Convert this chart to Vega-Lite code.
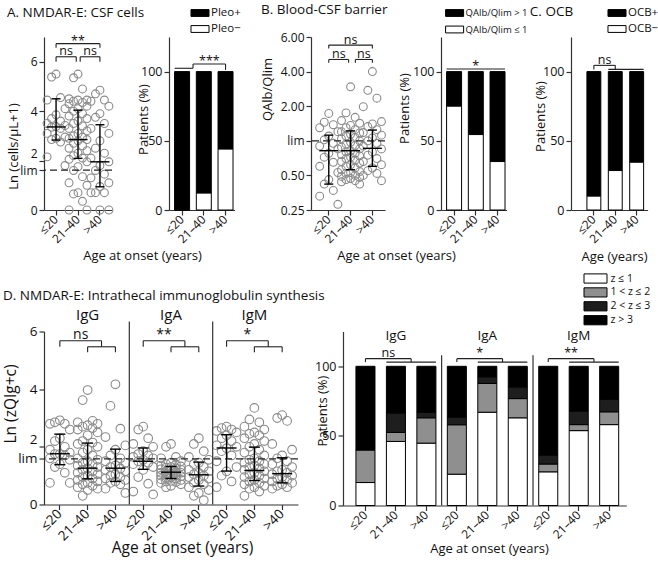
{
"$schema": "https://vega.github.io/schema/vega-lite/v6.json",
"background": "white",
"padding": {"left": 3, "top": 2, "right": 2, "bottom": 2},
"config": {
  "font": "Open Sans",
  "view": {"stroke": null},
  "axis": {"grid": false, "labelFontSize": 12.5, "titleFontSize": 13, "titleFontWeight": "normal", "labelColor": "#111", "titleColor": "#111", "domainColor": "#333", "tickColor": "#333", "domainWidth": 1.2, "tickWidth": 1.2, "tickSize": 5, "labelPadding": 2, "labelOverlap": false, "labelFlush": false, "titleBaseline": "middle"},
  "axisX": {"labelAngle": -45, "labelAlign": "right", "labelBaseline": "middle", "labelFontSize": 12},
  "title": {"fontSize": 13.5, "fontWeight": "normal", "anchor": "start", "frame": "bounds", "color": "#111", "font": "Open Sans", "offset": 15},
  "legend": {"labelFontSize": 11.5, "labelFont": "Open Sans", "labelColor": "#111", "padding": 0, "symbolStrokeColor": "black", "symbolStrokeWidth": 1, "orient": "none"},
  "rule": {"color": "#222", "strokeWidth": 1.1},
  "text": {"font": "Open Sans", "fontSize": 12.5, "color": "#111", "baseline": "alphabetic"},
  "tick": {"color": "black", "thickness": 1.4, "opacity": 1},
  "point": {"opacity": 1},
  "bar": {"stroke": "black", "strokeWidth": 1}
},
"datasets": {
  "one": [{}],
  "aPts": [
    {"g":"≤20","v":5.5},{"g":"≤20","v":5.38},{"g":"≤20","v":4.55},{"g":"≤20","v":4.45},{"g":"≤20","v":4.1},{"g":"≤20","v":3.85},{"g":"≤20","v":3.7},{"g":"≤20","v":3.6},{"g":"≤20","v":3.5},{"g":"≤20","v":3.42},{"g":"≤20","v":3.38},{"g":"≤20","v":3.35},{"g":"≤20","v":3.3},{"g":"≤20","v":3.1},{"g":"≤20","v":2.95},{"g":"≤20","v":2.9},{"g":"≤20","v":2.85},{"g":"≤20","v":2.75},{"g":"≤20","v":2.15},{"g":"≤20","v":1.8},
    {"g":"21–40","v":5.5},{"g":"21–40","v":5.35},{"g":"21–40","v":4.9},{"g":"21–40","v":4.5},{"g":"21–40","v":4.45},{"g":"21–40","v":4.45},{"g":"21–40","v":4.4},{"g":"21–40","v":4.35},{"g":"21–40","v":4.3},{"g":"21–40","v":4.2},{"g":"21–40","v":4.1},{"g":"21–40","v":4.0},{"g":"21–40","v":3.9},{"g":"21–40","v":3.8},{"g":"21–40","v":3.7},{"g":"21–40","v":3.6},{"g":"21–40","v":3.5},{"g":"21–40","v":3.4},{"g":"21–40","v":3.3},{"g":"21–40","v":3.2},{"g":"21–40","v":3.1},{"g":"21–40","v":3.0},{"g":"21–40","v":2.95},{"g":"21–40","v":2.9},{"g":"21–40","v":2.85},{"g":"21–40","v":2.8},{"g":"21–40","v":2.7},{"g":"21–40","v":2.6},{"g":"21–40","v":2.5},{"g":"21–40","v":2.4},{"g":"21–40","v":2.3},{"g":"21–40","v":2.2},{"g":"21–40","v":2.1},{"g":"21–40","v":2.05},{"g":"21–40","v":1.95},{"g":"21–40","v":1.75},{"g":"21–40","v":1.6},{"g":"21–40","v":1.35},{"g":"21–40","v":1.1},{"g":"21–40","v":1.0},{"g":"21–40","v":0.7},{"g":"21–40","v":0.65},{"g":"21–40","v":0.35},{"g":"21–40","v":0},{"g":"21–40","v":0},
    {"g":">40","v":4.85},{"g":">40","v":4.7},{"g":">40","v":4.45},{"g":">40","v":4.4},{"g":">40","v":4.2},{"g":">40","v":3.9},{"g":">40","v":3.75},{"g":">40","v":3.5},{"g":">40","v":3.3},{"g":">40","v":3.1},{"g":">40","v":2.8},{"g":">40","v":2.5},{"g":">40","v":2.3},{"g":">40","v":2.1},{"g":">40","v":1.95},{"g":">40","v":1.8},{"g":">40","v":1.6},{"g":">40","v":1.45},{"g":">40","v":1.3},{"g":">40","v":1.1},{"g":">40","v":0.95},{"g":">40","v":0.7},{"g":">40","v":0.7},{"g":">40","v":0.7},{"g":">40","v":0},{"g":">40","v":0}
  ],
  "aStats": [{"g":"≤20","med":3.36,"q1":2.83,"q3":4.5},{"g":"21–40","med":2.85,"q1":2.09,"q3":4.04},{"g":">40","med":1.95,"q1":0.94,"q3":3.45}],
  "aBar": [{"g":"≤20","s":"Pleo+","pct":100},{"g":"≤20","s":"Pleo−","pct":0},{"g":"21–40","s":"Pleo+","pct":87.8},{"g":"21–40","s":"Pleo−","pct":12.2},{"g":">40","s":"Pleo+","pct":56},{"g":">40","s":"Pleo−","pct":44}],
  "bPts": [
    {"g":"≤20","v":1.73},{"g":"≤20","v":1.45},{"g":"≤20","v":1.38},{"g":"≤20","v":1.3},{"g":"≤20","v":1.2},{"g":"≤20","v":1.1},{"g":"≤20","v":1.02},{"g":"≤20","v":0.95},{"g":"≤20","v":0.9},{"g":"≤20","v":0.85},{"g":"≤20","v":0.78},{"g":"≤20","v":0.72},{"g":"≤20","v":0.65},{"g":"≤20","v":0.6},{"g":"≤20","v":0.53},{"g":"≤20","v":0.46},{"g":"≤20","v":0.42},{"g":"≤20","v":0.37},{"g":"≤20","v":0.33},{"g":"≤20","v":0.28},
    {"g":"21–40","v":2.95},{"g":"21–40","v":1.75},{"g":"21–40","v":1.6},{"g":"21–40","v":1.5},{"g":"21–40","v":1.42},{"g":"21–40","v":1.36},{"g":"21–40","v":1.3},{"g":"21–40","v":1.25},{"g":"21–40","v":1.2},{"g":"21–40","v":1.17},{"g":"21–40","v":1.14},{"g":"21–40","v":1.1},{"g":"21–40","v":1.07},{"g":"21–40","v":1.04},{"g":"21–40","v":1.0},{"g":"21–40","v":0.97},{"g":"21–40","v":0.94},{"g":"21–40","v":0.91},{"g":"21–40","v":0.88},{"g":"21–40","v":0.85},{"g":"21–40","v":0.82},{"g":"21–40","v":0.8},{"g":"21–40","v":0.78},{"g":"21–40","v":0.76},{"g":"21–40","v":0.74},{"g":"21–40","v":0.72},{"g":"21–40","v":0.7},{"g":"21–40","v":0.68},{"g":"21–40","v":0.66},{"g":"21–40","v":0.64},{"g":"21–40","v":0.62},{"g":"21–40","v":0.6},{"g":"21–40","v":0.58},{"g":"21–40","v":0.56},{"g":"21–40","v":0.54},{"g":"21–40","v":0.53},{"g":"21–40","v":0.52},{"g":"21–40","v":0.5},{"g":"21–40","v":0.49},{"g":"21–40","v":0.48},{"g":"21–40","v":0.47},{"g":"21–40","v":0.46},{"g":"21–40","v":0.45},{"g":"21–40","v":0.44},{"g":"21–40","v":0.42},
    {"g":">40","v":4.0},{"g":">40","v":2.75},{"g":">40","v":2.35},{"g":">40","v":1.98},{"g":">40","v":1.47},{"g":">40","v":1.4},{"g":">40","v":1.33},{"g":">40","v":1.25},{"g":">40","v":1.18},{"g":">40","v":1.12},{"g":">40","v":1.06},{"g":">40","v":1.0},{"g":">40","v":0.95},{"g":">40","v":0.9},{"g":">40","v":0.85},{"g":">40","v":0.8},{"g":">40","v":0.75},{"g":">40","v":0.7},{"g":">40","v":0.66},{"g":">40","v":0.62},{"g":">40","v":0.58},{"g":">40","v":0.55},{"g":">40","v":0.52},{"g":">40","v":0.5},{"g":">40","v":0.45}
  ],
  "bStats": [{"g":"≤20","med":0.82,"q1":0.42,"q3":1.12},{"g":"21–40","med":0.82,"q1":0.56,"q3":1.22},{"g":">40","med":0.86,"q1":0.6,"q3":1.24}],
  "bBar": [{"g":"≤20","s":"QAlb/Qlim > 1","pct":25},{"g":"≤20","s":"QAlb/Qlim ≤ 1","pct":75},{"g":"21–40","s":"QAlb/Qlim > 1","pct":45.5},{"g":"21–40","s":"QAlb/Qlim ≤ 1","pct":54.5},{"g":">40","s":"QAlb/Qlim > 1","pct":65},{"g":">40","s":"QAlb/Qlim ≤ 1","pct":35}],
  "cBar": [{"g":"≤20","s":"OCB+","pct":90},{"g":"≤20","s":"OCB−","pct":10},{"g":"21–40","s":"OCB+","pct":71.5},{"g":"21–40","s":"OCB−","pct":28.5},{"g":">40","s":"OCB+","pct":65.5},{"g":">40","s":"OCB−","pct":34.5}],
  "dPts": [
    {"k":"IgG|≤20","v":2.92},{"k":"IgG|≤20","v":2.85},{"k":"IgG|≤20","v":2.8},{"k":"IgG|≤20","v":2.8},{"k":"IgG|≤20","v":2.6},{"k":"IgG|≤20","v":2.3},{"k":"IgG|≤20","v":2.2},{"k":"IgG|≤20","v":2.0},{"k":"IgG|≤20","v":1.9},{"k":"IgG|≤20","v":1.8},{"k":"IgG|≤20","v":1.75},{"k":"IgG|≤20","v":1.75},{"k":"IgG|≤20","v":1.7},{"k":"IgG|≤20","v":1.6},{"k":"IgG|≤20","v":1.55},{"k":"IgG|≤20","v":1.4},{"k":"IgG|≤20","v":1.3},{"k":"IgG|≤20","v":1.1},{"k":"IgG|≤20","v":0.75},{"k":"IgG|≤20","v":0.75},
    {"k":"IgG|21–40","v":3.97},{"k":"IgG|21–40","v":3.62},{"k":"IgG|21–40","v":2.9},{"k":"IgG|21–40","v":2.85},{"k":"IgG|21–40","v":2.8},{"k":"IgG|21–40","v":2.75},{"k":"IgG|21–40","v":2.7},{"k":"IgG|21–40","v":2.65},{"k":"IgG|21–40","v":2.6},{"k":"IgG|21–40","v":2.5},{"k":"IgG|21–40","v":2.4},{"k":"IgG|21–40","v":2.2},{"k":"IgG|21–40","v":2.15},{"k":"IgG|21–40","v":2.1},{"k":"IgG|21–40","v":2.0},{"k":"IgG|21–40","v":1.9},{"k":"IgG|21–40","v":1.8},{"k":"IgG|21–40","v":1.7},{"k":"IgG|21–40","v":1.6},{"k":"IgG|21–40","v":1.55},{"k":"IgG|21–40","v":1.5},{"k":"IgG|21–40","v":1.45},{"k":"IgG|21–40","v":1.4},{"k":"IgG|21–40","v":1.35},{"k":"IgG|21–40","v":1.3},{"k":"IgG|21–40","v":1.25},{"k":"IgG|21–40","v":1.2},{"k":"IgG|21–40","v":1.15},{"k":"IgG|21–40","v":1.1},{"k":"IgG|21–40","v":1.05},{"k":"IgG|21–40","v":1.0},{"k":"IgG|21–40","v":0.95},{"k":"IgG|21–40","v":0.9},{"k":"IgG|21–40","v":0.85},{"k":"IgG|21–40","v":0.8},{"k":"IgG|21–40","v":0.75},{"k":"IgG|21–40","v":0.7},{"k":"IgG|21–40","v":0.65},{"k":"IgG|21–40","v":0.6},{"k":"IgG|21–40","v":0.55},{"k":"IgG|21–40","v":0.5},{"k":"IgG|21–40","v":0.3},
    {"k":"IgG|>40","v":4.17},{"k":"IgG|>40","v":3.42},{"k":"IgG|>40","v":2.63},{"k":"IgG|>40","v":2.34},{"k":"IgG|>40","v":2.05},{"k":"IgG|>40","v":1.9},{"k":"IgG|>40","v":1.7},{"k":"IgG|>40","v":1.6},{"k":"IgG|>40","v":1.5},{"k":"IgG|>40","v":1.45},{"k":"IgG|>40","v":1.35},{"k":"IgG|>40","v":1.3},{"k":"IgG|>40","v":1.25},{"k":"IgG|>40","v":1.2},{"k":"IgG|>40","v":1.15},{"k":"IgG|>40","v":1.05},{"k":"IgG|>40","v":1.0},{"k":"IgG|>40","v":0.95},{"k":"IgG|>40","v":0.9},{"k":"IgG|>40","v":0.85},{"k":"IgG|>40","v":0.8},{"k":"IgG|>40","v":0.75},{"k":"IgG|>40","v":0.7},{"k":"IgG|>40","v":0.55},{"k":"IgG|>40","v":0.4},
    {"k":"IgA|≤20","v":2.7},{"k":"IgA|≤20","v":2.6},{"k":"IgA|≤20","v":2.3},{"k":"IgA|≤20","v":2.1},{"k":"IgA|≤20","v":2.0},{"k":"IgA|≤20","v":1.85},{"k":"IgA|≤20","v":1.75},{"k":"IgA|≤20","v":1.7},{"k":"IgA|≤20","v":1.65},{"k":"IgA|≤20","v":1.6},{"k":"IgA|≤20","v":1.55},{"k":"IgA|≤20","v":1.5},{"k":"IgA|≤20","v":1.45},{"k":"IgA|≤20","v":1.4},{"k":"IgA|≤20","v":1.3},{"k":"IgA|≤20","v":1.2},{"k":"IgA|≤20","v":0.95},{"k":"IgA|≤20","v":0.72},{"k":"IgA|≤20","v":0.45},{"k":"IgA|≤20","v":0.35},
    {"k":"IgA|21–40","v":2.1},{"k":"IgA|21–40","v":2.0},{"k":"IgA|21–40","v":1.65},{"k":"IgA|21–40","v":1.6},{"k":"IgA|21–40","v":1.5},{"k":"IgA|21–40","v":1.45},{"k":"IgA|21–40","v":1.4},{"k":"IgA|21–40","v":1.38},{"k":"IgA|21–40","v":1.35},{"k":"IgA|21–40","v":1.32},{"k":"IgA|21–40","v":1.3},{"k":"IgA|21–40","v":1.28},{"k":"IgA|21–40","v":1.25},{"k":"IgA|21–40","v":1.22},{"k":"IgA|21–40","v":1.2},{"k":"IgA|21–40","v":1.18},{"k":"IgA|21–40","v":1.15},{"k":"IgA|21–40","v":1.12},{"k":"IgA|21–40","v":1.1},{"k":"IgA|21–40","v":1.1},{"k":"IgA|21–40","v":1.08},{"k":"IgA|21–40","v":1.05},{"k":"IgA|21–40","v":1.02},{"k":"IgA|21–40","v":1.0},{"k":"IgA|21–40","v":0.98},{"k":"IgA|21–40","v":0.95},{"k":"IgA|21–40","v":0.93},{"k":"IgA|21–40","v":0.9},{"k":"IgA|21–40","v":0.88},{"k":"IgA|21–40","v":0.85},{"k":"IgA|21–40","v":0.82},{"k":"IgA|21–40","v":0.8},{"k":"IgA|21–40","v":0.78},{"k":"IgA|21–40","v":0.75},{"k":"IgA|21–40","v":0.7},{"k":"IgA|21–40","v":0.65},{"k":"IgA|21–40","v":0.6},
    {"k":"IgA|>40","v":2.3},{"k":"IgA|>40","v":2.1},{"k":"IgA|>40","v":1.85},{"k":"IgA|>40","v":1.65},{"k":"IgA|>40","v":1.55},{"k":"IgA|>40","v":1.45},{"k":"IgA|>40","v":1.4},{"k":"IgA|>40","v":1.3},{"k":"IgA|>40","v":1.2},{"k":"IgA|>40","v":1.15},{"k":"IgA|>40","v":1.1},{"k":"IgA|>40","v":1.05},{"k":"IgA|>40","v":1.0},{"k":"IgA|>40","v":0.95},{"k":"IgA|>40","v":0.9},{"k":"IgA|>40","v":0.85},{"k":"IgA|>40","v":0.75},{"k":"IgA|>40","v":0.7},{"k":"IgA|>40","v":0.6},{"k":"IgA|>40","v":0.5},{"k":"IgA|>40","v":0.4},{"k":"IgA|>40","v":0.3},{"k":"IgA|>40","v":0.15},
    {"k":"IgM|≤20","v":2.7},{"k":"IgM|≤20","v":2.65},{"k":"IgM|≤20","v":2.6},{"k":"IgM|≤20","v":2.55},{"k":"IgM|≤20","v":2.5},{"k":"IgM|≤20","v":2.4},{"k":"IgM|≤20","v":2.3},{"k":"IgM|≤20","v":2.2},{"k":"IgM|≤20","v":2.05},{"k":"IgM|≤20","v":2.0},{"k":"IgM|≤20","v":1.95},{"k":"IgM|≤20","v":1.85},{"k":"IgM|≤20","v":1.7},{"k":"IgM|≤20","v":1.5},{"k":"IgM|≤20","v":1.3},{"k":"IgM|≤20","v":1.15},{"k":"IgM|≤20","v":1.0},{"k":"IgM|≤20","v":0.8},{"k":"IgM|≤20","v":0.6},
    {"k":"IgM|21–40","v":3.35},{"k":"IgM|21–40","v":2.95},{"k":"IgM|21–40","v":2.85},{"k":"IgM|21–40","v":2.7},{"k":"IgM|21–40","v":2.6},{"k":"IgM|21–40","v":2.5},{"k":"IgM|21–40","v":2.45},{"k":"IgM|21–40","v":2.4},{"k":"IgM|21–40","v":2.3},{"k":"IgM|21–40","v":2.2},{"k":"IgM|21–40","v":2.1},{"k":"IgM|21–40","v":2.0},{"k":"IgM|21–40","v":1.9},{"k":"IgM|21–40","v":1.8},{"k":"IgM|21–40","v":1.7},{"k":"IgM|21–40","v":1.6},{"k":"IgM|21–40","v":1.55},{"k":"IgM|21–40","v":1.5},{"k":"IgM|21–40","v":1.45},{"k":"IgM|21–40","v":1.4},{"k":"IgM|21–40","v":1.35},{"k":"IgM|21–40","v":1.3},{"k":"IgM|21–40","v":1.25},{"k":"IgM|21–40","v":1.2},{"k":"IgM|21–40","v":1.15},{"k":"IgM|21–40","v":1.1},{"k":"IgM|21–40","v":1.05},{"k":"IgM|21–40","v":1.0},{"k":"IgM|21–40","v":0.95},{"k":"IgM|21–40","v":0.9},{"k":"IgM|21–40","v":0.85},{"k":"IgM|21–40","v":0.8},{"k":"IgM|21–40","v":0.75},{"k":"IgM|21–40","v":0.7},{"k":"IgM|21–40","v":0.65},{"k":"IgM|21–40","v":0.6},{"k":"IgM|21–40","v":0.55},{"k":"IgM|21–40","v":0.45},{"k":"IgM|21–40","v":0.3},
    {"k":"IgM|>40","v":3.1},{"k":"IgM|>40","v":3.0},{"k":"IgM|>40","v":2.9},{"k":"IgM|>40","v":2.1},{"k":"IgM|>40","v":1.9},{"k":"IgM|>40","v":1.7},{"k":"IgM|>40","v":1.6},{"k":"IgM|>40","v":1.5},{"k":"IgM|>40","v":1.4},{"k":"IgM|>40","v":1.3},{"k":"IgM|>40","v":1.2},{"k":"IgM|>40","v":1.15},{"k":"IgM|>40","v":1.1},{"k":"IgM|>40","v":1.05},{"k":"IgM|>40","v":1.0},{"k":"IgM|>40","v":0.95},{"k":"IgM|>40","v":0.9},{"k":"IgM|>40","v":0.85},{"k":"IgM|>40","v":0.8},{"k":"IgM|>40","v":0.75},{"k":"IgM|>40","v":0.7},{"k":"IgM|>40","v":0.65},{"k":"IgM|>40","v":0.6},{"k":"IgM|>40","v":0.55}
  ],
  "dStats": [{"k":"IgG|≤20","med":1.76,"q1":1.38,"q3":2.44},{"k":"IgG|21–40","med":1.26,"q1":0.89,"q3":2.13},{"k":"IgG|>40","med":1.26,"q1":0.8,"q3":1.92},{"k":"IgA|≤20","med":1.5,"q1":1.22,"q3":1.96},{"k":"IgA|21–40","med":1.12,"q1":0.9,"q3":1.32},{"k":"IgA|>40","med":1.03,"q1":0.64,"q3":1.47},{"k":"IgM|≤20","med":1.96,"q1":1.16,"q3":2.42},{"k":"IgM|21–40","med":1.18,"q1":0.83,"q3":1.99},{"k":"IgM|>40","med":1.07,"q1":0.75,"q3":1.62}],
  "dBr": [{"grp":"IgG","c1":"IgG|≤20","c2":"IgG|21–40","c3":"IgG|>40","s1":"ns","s2":"ns"},{"grp":"IgA","c1":"IgA|≤20","c2":"IgA|21–40","c3":"IgA|>40","s1":"**","s2":"*"},{"grp":"IgM","c1":"IgM|≤20","c2":"IgM|21–40","c3":"IgM|>40","s1":"*","s2":"**"}],
  "dBar": [
    {"k":"IgG|≤20","z":"z ≤ 1","pct":16.5},{"k":"IgG|≤20","z":"1 < z ≤ 2","pct":23.5},{"k":"IgG|≤20","z":"2 < z ≤ 3","pct":0},{"k":"IgG|≤20","z":"z > 3","pct":60},
    {"k":"IgG|21–40","z":"z ≤ 1","pct":46},{"k":"IgG|21–40","z":"1 < z ≤ 2","pct":6.5},{"k":"IgG|21–40","z":"2 < z ≤ 3","pct":14},{"k":"IgG|21–40","z":"z > 3","pct":33.5},
    {"k":"IgG|>40","z":"z ≤ 1","pct":44.8},{"k":"IgG|>40","z":"1 < z ≤ 2","pct":18.2},{"k":"IgG|>40","z":"2 < z ≤ 3","pct":4},{"k":"IgG|>40","z":"z > 3","pct":33},
    {"k":"IgA|≤20","z":"z ≤ 1","pct":22.5},{"k":"IgA|≤20","z":"1 < z ≤ 2","pct":35.5},{"k":"IgA|≤20","z":"2 < z ≤ 3","pct":5.5},{"k":"IgA|≤20","z":"z > 3","pct":36.5},
    {"k":"IgA|21–40","z":"z ≤ 1","pct":67},{"k":"IgA|21–40","z":"1 < z ≤ 2","pct":20.7},{"k":"IgA|21–40","z":"2 < z ≤ 3","pct":4.8},{"k":"IgA|21–40","z":"z > 3","pct":7.5},
    {"k":"IgA|>40","z":"z ≤ 1","pct":63},{"k":"IgA|>40","z":"1 < z ≤ 2","pct":13.8},{"k":"IgA|>40","z":"2 < z ≤ 3","pct":8.4},{"k":"IgA|>40","z":"z > 3","pct":14.8},
    {"k":"IgM|≤20","z":"z ≤ 1","pct":24.2},{"k":"IgM|≤20","z":"1 < z ≤ 2","pct":5.6},{"k":"IgM|≤20","z":"2 < z ≤ 3","pct":6.5},{"k":"IgM|≤20","z":"z > 3","pct":63.7},
    {"k":"IgM|21–40","z":"z ≤ 1","pct":53.8},{"k":"IgM|21–40","z":"1 < z ≤ 2","pct":4.3},{"k":"IgM|21–40","z":"2 < z ≤ 3","pct":9.7},{"k":"IgM|21–40","z":"z > 3","pct":32.2},
    {"k":"IgM|>40","z":"z ≤ 1","pct":58.1},{"k":"IgM|>40","z":"1 < z ≤ 2","pct":9.2},{"k":"IgM|>40","z":"2 < z ≤ 3","pct":9},{"k":"IgM|>40","z":"z > 3","pct":23.7}
  ]
},
"resolve": {"scale": {"x": "independent", "y": "independent", "color": "independent", "xOffset": "independent"}, "legend": {"color": "independent"}, "axis": {"x": "independent", "y": "independent"}},
"spacing": 9.5,
"vconcat": [
 {
  "hconcat": [
   {
    "title": {"text": "A. NMDAR-E: CSF cells"},
    "width": 68, "height": 173,
    "layer": [
     {"data": {"name": "aPts"},
      "transform": [{"window": [{"op": "row_number", "as": "rn"}], "groupby": ["g"], "sort": [{"field": "v", "order": "descending"}]}, {"calculate": "[0,-1,1,-2,2][(datum.rn - 1) % 5]", "as": "lane"}],
      "mark": {"type": "point", "filled": false, "size": 62, "color": "#8a8a8a", "strokeWidth": 1.1},
      "encoding": {
        "x": {"field": "g", "type": "nominal", "scale": {"domain": ["≤20","21–40",">40"], "paddingInner": 0, "paddingOuter": 0.05}, "axis": {"title": "Age at onset (years)", "titleX": 98, "titleY": 45}},
        "xOffset": {"field": "lane", "type": "quantitative", "scale": {"domain": [-2.45, 2.45]}},
        "y": {"field": "v", "type": "quantitative", "scale": {"domain": [0, 7], "nice": false, "zero": false}, "axis": {"values": [0,2,4,6,1.61], "labelFontSize": 12, "labelBaseline": {"condition": {"test": "datum.value == 2", "value": "bottom"}, "value": "middle"}, "labelExpr": "datum.value == 1.61 ? 'lim' : datum.label", "title": "Ln (cells/μL+1)", "titleX": -31, "titleY": 109}}
      }},
     {"data": {"name": "one"}, "mark": {"type": "rule", "strokeDash": [7,4], "color": "#222", "strokeWidth": 1.2}, "encoding": {"y": {"datum": 1.61, "type": "quantitative"}}},
     {"data": {"name": "aStats"}, "mark": {"type": "rule", "color": "black", "strokeWidth": 1.4}, "encoding": {"x": {"field": "g", "type": "nominal"}, "y": {"field": "q1", "type": "quantitative"}, "y2": {"field": "q3"}}},
     {"data": {"name": "aStats"}, "mark": {"type": "tick", "size": 19}, "encoding": {"x": {"field": "g", "type": "nominal"}, "y": {"field": "med", "type": "quantitative"}}},
     {"data": {"name": "aStats"}, "mark": {"type": "tick", "size": 9}, "encoding": {"x": {"field": "g", "type": "nominal"}, "y": {"field": "q1", "type": "quantitative"}}},
     {"data": {"name": "aStats"}, "mark": {"type": "tick", "size": 9}, "encoding": {"x": {"field": "g", "type": "nominal"}, "y": {"field": "q3", "type": "quantitative"}}},
     {"data": {"name": "one"}, "mark": "rule", "encoding": {"x": {"datum": "≤20", "type": "nominal"}, "x2": {"datum": ">40"}, "y": {"datum": 6.73, "type": "quantitative"}}},
     {"data": {"values": [{"c": "≤20"}, {"c": ">40"}]}, "mark": "rule", "encoding": {"x": {"field": "c", "type": "nominal"}, "y": {"datum": 6.73, "type": "quantitative"}, "y2": {"datum": 6.57}}},
     {"data": {"name": "one"}, "mark": "rule", "encoding": {"x": {"datum": "≤20", "type": "nominal"}, "x2": {"datum": "21–40", "bandPosition": 0.42}, "y": {"datum": 6.2, "type": "quantitative"}}},
     {"data": {"name": "one"}, "mark": "rule", "encoding": {"x": {"datum": "21–40", "type": "nominal", "bandPosition": 0.6}, "x2": {"datum": ">40"}, "y": {"datum": 6.2, "type": "quantitative"}}},
     {"data": {"values": [{"c": "≤20"}, {"c": ">40"}]}, "mark": "rule", "encoding": {"x": {"field": "c", "type": "nominal"}, "y": {"datum": 6.2, "type": "quantitative"}, "y2": {"datum": 6.0}}},
     {"data": {"name": "one"}, "mark": "rule", "encoding": {"x": {"datum": "21–40", "type": "nominal", "bandPosition": 0.42}, "y": {"datum": 6.2, "type": "quantitative"}, "y2": {"datum": 6.0}}},
     {"data": {"name": "one"}, "mark": "rule", "encoding": {"x": {"datum": "21–40", "type": "nominal", "bandPosition": 0.6}, "y": {"datum": 6.2, "type": "quantitative"}, "y2": {"datum": 6.0}}},
     {"data": {"name": "one"}, "mark": {"type": "text", "text": "**", "dy": 1}, "encoding": {"x": {"datum": "21–40", "type": "nominal"}, "y": {"datum": 6.73, "type": "quantitative"}}},
     {"data": {"name": "one"}, "mark": {"type": "text", "text": "ns", "dy": -1.5}, "encoding": {"x": {"datum": "≤20", "type": "nominal", "bandPosition": 0.96}, "y": {"datum": 6.2, "type": "quantitative"}}},
     {"data": {"name": "one"}, "mark": {"type": "text", "text": "ns", "dy": -1.5}, "encoding": {"x": {"datum": "21–40", "type": "nominal", "bandPosition": 1.05}, "y": {"datum": 6.2, "type": "quantitative"}}}
    ]
   },
   {"width": 56.7, "height": 10, "data": {"name": "one"}, "mark": {"type": "rule", "opacity": 0}, "encoding": {}},
   {
    "width": 65.6, "height": 173,
    "layer": [
     {"data": {"name": "aBar"}, "mark": "bar",
      "encoding": {
        "x": {"field": "g", "type": "nominal", "scale": {"domain": ["≤20","21–40",">40"], "paddingInner": 0.31, "paddingOuter": 0.165, "align": 0.78}, "axis": {"title": null}},
        "y": {"field": "pct", "type": "quantitative", "stack": "zero", "scale": {"domain": [0, 125], "nice": false}, "axis": {"values": [0,25,50,75,100,125], "title": "Patients (%)", "titleX": -26, "titleY": 82}},
        "color": {"field": "s", "type": "nominal", "scale": {"domain": ["Pleo+", "Pleo−"], "range": ["black", "white"]}, "legend": {"title": null, "legendX": 25, "legendY": -30, "symbolType": "M-1.64,-0.62H1.64V0.62H-1.64Z", "symbolSize": 121, "labelOffset": 5, "rowPadding": 4}},
        "order": {"field": "s", "sort": "descending"}
      }},
     {"data": {"name": "one"}, "mark": "rule", "encoding": {"x": {"datum": "≤20", "type": "nominal", "bandPosition": 0}, "x2": {"datum": "≤20", "bandPosition": 1.23}, "y": {"datum": 102.4, "type": "quantitative"}}},
     {"data": {"name": "one"}, "mark": "rule", "encoding": {"x": {"datum": "≤20", "type": "nominal", "bandPosition": 1.23}, "x2": {"datum": ">40", "bandPosition": 0.5}, "y": {"datum": 105.5, "type": "quantitative"}}},
     {"data": {"name": "one"}, "mark": "rule", "encoding": {"x": {"datum": "≤20", "type": "nominal", "bandPosition": 1.23}, "y": {"datum": 105.5, "type": "quantitative"}, "y2": {"datum": 102.4}}},
     {"data": {"name": "one"}, "mark": "rule", "encoding": {"x": {"datum": ">40", "type": "nominal"}, "y": {"datum": 105.5, "type": "quantitative"}, "y2": {"datum": 101.2}}},
     {"data": {"name": "one"}, "mark": {"type": "text", "text": "***", "dy": 1}, "encoding": {"x": {"datum": "21–40", "type": "nominal", "bandPosition": 0.87}, "y": {"datum": 105.5, "type": "quantitative"}}}
    ]
   },
   {"width": 75.7, "height": 10, "data": {"name": "one"}, "mark": {"type": "rule", "opacity": 0}, "encoding": {}},
   {
    "title": {"text": "B. Blood-CSF barrier"},
    "width": 74, "height": 173,
    "layer": [
     {"data": {"name": "bPts"},
      "transform": [{"window": [{"op": "row_number", "as": "rn"}], "groupby": ["g"], "sort": [{"field": "v", "order": "descending"}]}, {"calculate": "[0,-1,1,-2,2][(datum.rn - 1) % 5]", "as": "lane"}],
      "mark": {"type": "point", "filled": false, "size": 62, "color": "#8a8a8a", "strokeWidth": 1.1},
      "encoding": {
        "x": {"field": "g", "type": "nominal", "scale": {"domain": ["≤20","21–40",">40"], "paddingInner": 0, "paddingOuter": 0.197, "align": 0.8}, "axis": {"title": "Age at onset (years)", "titleX": 85, "titleY": 45}},
        "xOffset": {"field": "lane", "type": "quantitative", "scale": {"domain": [-2.4, 2.4]}},
        "y": {"field": "v", "type": "quantitative", "scale": {"type": "log", "base": 2, "domain": [0.25, 8], "nice": false}, "axis": {"values": [0.25,0.5,1,2,4,8], "labelFontSize": 12, "labelExpr": "datum.value == 1 ? 'lim' : datum.value == 8 ? '6.00' : format(datum.value, '.2f')", "title": "QAlb/Qlim", "titleX": -44, "titleY": 52}}
      }},
     {"data": {"name": "one"}, "mark": {"type": "rule", "strokeDash": [7,4], "color": "#222", "strokeWidth": 1.2}, "encoding": {"y": {"datum": 1, "type": "quantitative"}}},
     {"data": {"name": "bStats"}, "mark": {"type": "rule", "color": "black", "strokeWidth": 1.4}, "encoding": {"x": {"field": "g", "type": "nominal"}, "y": {"field": "q1", "type": "quantitative"}, "y2": {"field": "q3"}}},
     {"data": {"name": "bStats"}, "mark": {"type": "tick", "size": 19}, "encoding": {"x": {"field": "g", "type": "nominal"}, "y": {"field": "med", "type": "quantitative"}}},
     {"data": {"name": "bStats"}, "mark": {"type": "tick", "size": 9}, "encoding": {"x": {"field": "g", "type": "nominal"}, "y": {"field": "q1", "type": "quantitative"}}},
     {"data": {"name": "bStats"}, "mark": {"type": "tick", "size": 9}, "encoding": {"x": {"field": "g", "type": "nominal"}, "y": {"field": "q3", "type": "quantitative"}}},
     {"data": {"name": "one"}, "mark": "rule", "encoding": {"x": {"datum": "≤20", "type": "nominal"}, "x2": {"datum": ">40"}, "y": {"datum": 6.8, "type": "quantitative"}}},
     {"data": {"values": [{"c": "≤20"}, {"c": ">40"}]}, "mark": "rule", "encoding": {"x": {"field": "c", "type": "nominal"}, "y": {"datum": 6.8, "type": "quantitative"}, "y2": {"datum": 6.35}}},
     {"data": {"name": "one"}, "mark": "rule", "encoding": {"x": {"datum": "≤20", "type": "nominal"}, "x2": {"datum": "21–40", "bandPosition": 0.41}, "y": {"datum": 5.1, "type": "quantitative"}}},
     {"data": {"name": "one"}, "mark": "rule", "encoding": {"x": {"datum": "21–40", "type": "nominal", "bandPosition": 0.72}, "x2": {"datum": ">40"}, "y": {"datum": 5.1, "type": "quantitative"}}},
     {"data": {"values": [{"c": "≤20"}, {"c": ">40"}]}, "mark": "rule", "encoding": {"x": {"field": "c", "type": "nominal"}, "y": {"datum": 5.1, "type": "quantitative"}, "y2": {"datum": 4.78}}},
     {"data": {"name": "one"}, "mark": "rule", "encoding": {"x": {"datum": "21–40", "type": "nominal", "bandPosition": 0.41}, "y": {"datum": 5.1, "type": "quantitative"}, "y2": {"datum": 4.78}}},
     {"data": {"name": "one"}, "mark": "rule", "encoding": {"x": {"datum": "21–40", "type": "nominal", "bandPosition": 0.72}, "y": {"datum": 5.1, "type": "quantitative"}, "y2": {"datum": 4.78}}},
     {"data": {"name": "one"}, "mark": {"type": "text", "text": "ns", "dy": -1.5}, "encoding": {"x": {"datum": "21–40", "type": "nominal"}, "y": {"datum": 6.8, "type": "quantitative"}}},
     {"data": {"name": "one"}, "mark": {"type": "text", "text": "ns", "dy": -1.5}, "encoding": {"x": {"datum": "≤20", "type": "nominal", "bandPosition": 0.96}, "y": {"datum": 5.1, "type": "quantitative"}}},
     {"data": {"name": "one"}, "mark": {"type": "text", "text": "ns", "dy": -1.5}, "encoding": {"x": {"datum": "21–40", "type": "nominal", "bandPosition": 1.11}, "y": {"datum": 5.1, "type": "quantitative"}}}
    ]
   },
   {"width": 55.7, "height": 10, "data": {"name": "one"}, "mark": {"type": "rule", "opacity": 0}, "encoding": {}},
   {
    "width": 65.6, "height": 173,
    "layer": [
     {"data": {"name": "bBar"}, "mark": "bar",
      "encoding": {
        "x": {"field": "g", "type": "nominal", "scale": {"domain": ["≤20","21–40",">40"], "paddingInner": 0.31, "paddingOuter": 0.165, "align": 0.78}, "axis": {"title": null}},
        "y": {"field": "pct", "type": "quantitative", "stack": "zero", "scale": {"domain": [0, 125], "nice": false}, "axis": {"values": [0,25,50,75,100,125], "title": "Patients (%)", "titleX": -36.7, "titleY": 71}},
        "color": {"field": "s", "type": "nominal", "scale": {"domain": ["QAlb/Qlim > 1", "QAlb/Qlim ≤ 1"], "range": ["black", "white"]}, "legend": {"title": null, "legendX": 7.6, "legendY": -30, "symbolType": "M-1.64,-0.62H1.64V0.62H-1.64Z", "symbolSize": 121, "labelOffset": 5, "rowPadding": 4.5, "labelFontSize": 9.5}},
        "order": {"field": "s", "sort": "descending"}
      }},
     {"data": {"name": "one"}, "mark": "rule", "encoding": {"x": {"datum": "≤20", "type": "nominal", "bandPosition": 0}, "x2": {"datum": ">40", "bandPosition": 1}, "y": {"datum": 101.9, "type": "quantitative"}}},
     {"data": {"name": "one"}, "mark": {"type": "text", "text": "*", "dy": 1}, "encoding": {"x": {"datum": "21–40", "type": "nominal"}, "y": {"datum": 101.9, "type": "quantitative"}}}
    ]
   },
   {"title": {"text": "C. OCB", "dx": 23.4, "offset": 18}, "width": 63.4, "height": 10, "data": {"name": "one"}, "mark": {"type": "rule", "opacity": 0}, "encoding": {}},
   {
    "width": 76.6, "height": 173,
    "layer": [
     {"data": {"name": "cBar"}, "mark": "bar",
      "encoding": {
        "x": {"field": "g", "type": "nominal", "scale": {"domain": ["≤20","21–40",">40"], "paddingInner": 0.35, "paddingOuter": 0.465, "align": 0.8}, "axis": {"title": "Age (years)", "titleX": 43, "titleY": 46}},
        "y": {"field": "pct", "type": "quantitative", "stack": "zero", "scale": {"domain": [0, 125], "nice": false}, "axis": {"values": [0,25,50,75,100,125], "title": "Patients (%)", "titleX": -30.7, "titleY": 79}},
        "color": {"field": "s", "type": "nominal", "scale": {"domain": ["OCB+", "OCB−"], "range": ["black", "white"]}, "legend": {"title": null, "legendX": 40, "legendY": -30, "symbolType": "M-1.64,-0.62H1.64V0.62H-1.64Z", "symbolSize": 121, "labelOffset": 5, "rowPadding": 4}},
        "order": {"field": "s", "sort": "descending"}
      }},
     {"data": {"name": "one"}, "mark": "rule", "encoding": {"x": {"datum": "≤20", "type": "nominal"}, "x2": {"datum": "21–40"}, "y": {"datum": 104.5, "type": "quantitative"}}},
     {"data": {"values": [{"c": "≤20"}, {"c": "21–40"}]}, "mark": "rule", "encoding": {"x": {"field": "c", "type": "nominal"}, "y": {"datum": 104.5, "type": "quantitative"}, "y2": {"datum": 101.6}}},
     {"data": {"name": "one"}, "mark": "rule", "encoding": {"x": {"datum": "21–40", "type": "nominal", "bandPosition": 0}, "x2": {"datum": ">40", "bandPosition": 1}, "y": {"datum": 101.6, "type": "quantitative"}}},
     {"data": {"name": "one"}, "mark": {"type": "text", "text": "ns", "dy": -1.5}, "encoding": {"x": {"datum": "≤20", "type": "nominal", "bandPosition": 1.27}, "y": {"datum": 104.5, "type": "quantitative"}}}
    ]
   }
  ],
  "spacing": 0,
  "bounds": "flush",
  "resolve": {"scale": {"x": "independent", "y": "independent", "color": "independent", "xOffset": "independent"}, "legend": {"color": "independent"}, "axis": {"x": "independent", "y": "independent"}}
 },
 {
  "hconcat": [
   {
    "title": {"text": "D. NMDAR-E: Intrathecal immunoglobulin synthesis", "offset": 5},
    "width": 254, "height": 173,
    "layer": [
     {"data": {"name": "dPts"},
      "transform": [{"window": [{"op": "row_number", "as": "rn"}], "groupby": ["k"], "sort": [{"field": "v", "order": "descending"}]}, {"calculate": "[0,-1,1,-2,2][(datum.rn - 1) % 5]", "as": "lane"}],
      "mark": {"type": "point", "filled": false, "size": 75, "color": "#8a8a8a", "strokeWidth": 1.1},
      "encoding": {
        "x": {"field": "k", "type": "nominal", "scale": {"domain": ["IgG|≤20","IgG|21–40","IgG|>40","IgA|≤20","IgA|21–40","IgA|>40","IgM|≤20","IgM|21–40","IgM|>40"], "paddingInner": 0, "paddingOuter": 0.07}, "axis": {"labelExpr": "split(datum.label, '|')[1]", "labelFontSize": 13.5, "titleFontSize": 15.5, "title": "Age at onset (years)", "titleX": 138, "titleY": 43}},
        "xOffset": {"field": "lane", "type": "quantitative", "scale": {"domain": [-2.8, 2.8]}},
        "y": {"field": "v", "type": "quantitative", "scale": {"domain": [0, 6], "nice": false, "zero": false}, "axis": {"values": [0,2,4,6,1.58], "labelFontSize": 13.5, "titleFontSize": 15.5, "labelBaseline": {"condition": {"test": "datum.value == 2", "value": "bottom"}, "value": "middle"}, "labelExpr": "datum.value == 1.58 ? 'lim' : datum.label", "title": "Ln (zQIg+c)", "titleX": -34, "titleY": 72}}
      }},
     {"data": {"name": "one"}, "mark": {"type": "rule", "strokeDash": [7,4], "color": "#222", "strokeWidth": 1.2}, "encoding": {"y": {"datum": 1.58, "type": "quantitative"}}},
     {"data": {"name": "dStats"}, "mark": {"type": "rule", "color": "black", "strokeWidth": 1.4}, "encoding": {"x": {"field": "k", "type": "nominal"}, "y": {"field": "q1", "type": "quantitative"}, "y2": {"field": "q3"}}},
     {"data": {"name": "dStats"}, "mark": {"type": "tick", "size": 20}, "encoding": {"x": {"field": "k", "type": "nominal"}, "y": {"field": "med", "type": "quantitative"}}},
     {"data": {"name": "dStats"}, "mark": {"type": "tick", "size": 11}, "encoding": {"x": {"field": "k", "type": "nominal"}, "y": {"field": "q1", "type": "quantitative"}}},
     {"data": {"name": "dStats"}, "mark": {"type": "tick", "size": 11}, "encoding": {"x": {"field": "k", "type": "nominal"}, "y": {"field": "q3", "type": "quantitative"}}},
     {"data": {"name": "dBr"}, "mark": "rule", "encoding": {"x": {"field": "c1", "type": "nominal"}, "x2": {"field": "c2", "bandPosition": 1}, "y": {"datum": 5.68, "type": "quantitative"}}},
     {"data": {"name": "dBr"}, "mark": "rule", "encoding": {"x": {"field": "c1", "type": "nominal"}, "y": {"datum": 5.68, "type": "quantitative"}, "y2": {"datum": 5.47}}},
     {"data": {"name": "dBr"}, "mark": "rule", "encoding": {"x": {"field": "c2", "type": "nominal", "bandPosition": 1}, "y": {"datum": 5.68, "type": "quantitative"}, "y2": {"datum": 5.47}}},
     {"data": {"name": "dBr"}, "mark": "rule", "encoding": {"x": {"field": "c2", "type": "nominal"}, "x2": {"field": "c3"}, "y": {"datum": 5.47, "type": "quantitative"}}},
     {"data": {"name": "dBr"}, "mark": "rule", "encoding": {"x": {"field": "c2", "type": "nominal"}, "y": {"datum": 5.47, "type": "quantitative"}, "y2": {"datum": 5.28}}},
     {"data": {"name": "dBr"}, "mark": "rule", "encoding": {"x": {"field": "c3", "type": "nominal"}, "y": {"datum": 5.47, "type": "quantitative"}, "y2": {"datum": 5.28}}},
     {"data": {"name": "dBr"}, "mark": {"type": "text", "dy": -2, "fontSize": 14}, "encoding": {"x": {"field": "c1", "type": "nominal", "bandPosition": 1.25}, "y": {"datum": 5.68, "type": "quantitative"}, "text": {"field": "s1"}}},
     {"data": {"name": "dBr"}, "mark": {"type": "text", "baseline": "middle", "fontSize": 15}, "encoding": {"x": {"field": "c2", "type": "nominal"}, "y": {"datum": 6.58, "type": "quantitative"}, "text": {"field": "grp"}}},
     {"data": {"name": "dBr"}, "transform": [{"filter": "datum.grp != 'IgG'"}], "mark": {"type": "rule", "color": "#333", "strokeWidth": 1.2}, "encoding": {"x": {"field": "c1", "type": "nominal", "bandPosition": 0}, "y": {"datum": 0, "type": "quantitative"}, "y2": {"datum": 6.35}}}
    ]
   },
   {"width": 44.7, "height": 10, "data": {"name": "one"}, "mark": {"type": "rule", "opacity": 0}, "encoding": {}},
   {
    "width": 283.3, "height": 174,
    "layer": [
     {"data": {"name": "dBar"},
      "transform": [{"calculate": "indexof(['z ≤ 1','1 < z ≤ 2','2 < z ≤ 3','z > 3'], datum.z)", "as": "zi"}],
      "mark": "bar",
      "encoding": {
        "x": {"field": "k", "type": "nominal", "scale": {"domain": ["IgG|≤20","IgG|21–40","IgG|>40","IgA|≤20","IgA|21–40","IgA|>40","IgM|≤20","IgM|21–40","IgM|>40"], "paddingInner": 0.375, "paddingOuter": 0.337, "align": 0.63}, "axis": {"labelExpr": "split(datum.label, '|')[1]", "title": "Age at onset (years)", "titleX": 146, "titleY": 43}},
        "y": {"field": "pct", "type": "quantitative", "stack": "zero", "scale": {"domain": [0, 125], "nice": false}, "axis": {"values": [0,25,50,75,100,125], "title": "Patients (%)", "titleX": -21, "titleY": 79}},
        "color": {"field": "z", "type": "nominal", "scale": {"domain": ["z ≤ 1", "1 < z ≤ 2", "2 < z ≤ 3", "z > 3"], "range": ["white", "#8f8f8f", "#1e1e1e", "black"]}, "legend": {"title": null, "legendX": 247, "legendY": -58.5, "symbolType": "M-2.3,-0.92H2.3V0.92H-2.3Z", "symbolSize": 100, "labelOffset": 9.5, "rowPadding": -1.1, "labelFontSize": 10.5}},
        "order": {"field": "zi", "type": "quantitative", "sort": "ascending"}
      }},
     {"data": {"name": "dBr"}, "mark": "rule", "encoding": {"x": {"field": "c1", "type": "nominal"}, "x2": {"field": "c2", "bandPosition": 1.3}, "y": {"datum": 105.5, "type": "quantitative"}}},
     {"data": {"name": "dBr"}, "mark": "rule", "encoding": {"x": {"field": "c1", "type": "nominal"}, "y": {"datum": 105.5, "type": "quantitative"}, "y2": {"datum": 103}}},
     {"data": {"name": "dBr"}, "mark": "rule", "encoding": {"x": {"field": "c2", "type": "nominal", "bandPosition": 1.3}, "y": {"datum": 105.5, "type": "quantitative"}, "y2": {"datum": 103}}},
     {"data": {"name": "dBr"}, "mark": "rule", "encoding": {"x": {"field": "c2", "type": "nominal", "bandPosition": 0}, "x2": {"field": "c3", "bandPosition": 1}, "y": {"datum": 103, "type": "quantitative"}}},
     {"data": {"name": "dBr"}, "mark": {"type": "text", "dy": -2}, "encoding": {"x": {"field": "c1", "type": "nominal", "bandPosition": 1.7}, "y": {"datum": 105.5, "type": "quantitative"}, "text": {"field": "s2"}}},
     {"data": {"name": "dBr"}, "mark": {"type": "text", "baseline": "middle", "fontSize": 13.5}, "encoding": {"x": {"field": "c2", "type": "nominal"}, "y": {"datum": 122, "type": "quantitative"}, "text": {"field": "grp"}}},
     {"data": {"name": "dBr"}, "transform": [{"filter": "datum.grp != 'IgG'"}], "mark": {"type": "rule", "color": "#333", "strokeWidth": 1.2}, "encoding": {"x": {"field": "c1", "type": "nominal", "bandPosition": -0.3}, "y": {"datum": 0, "type": "quantitative"}, "y2": {"datum": 108}}}
    ]
   }
  ],
  "spacing": 0,
  "bounds": "flush",
  "resolve": {"scale": {"x": "independent", "y": "independent", "color": "independent", "xOffset": "independent"}, "legend": {"color": "independent"}, "axis": {"x": "independent", "y": "independent"}}
 }
]
}
